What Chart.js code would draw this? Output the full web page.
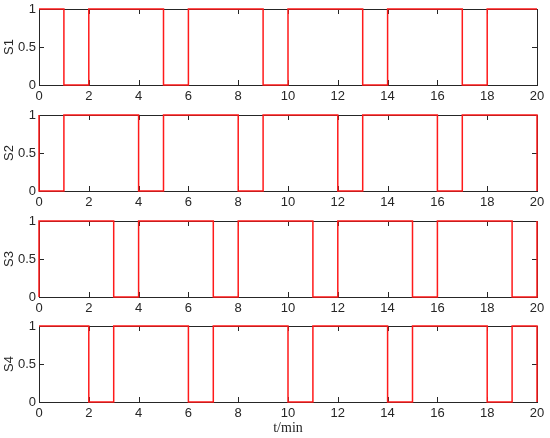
<!DOCTYPE html>
<html>
<head>
<meta charset="utf-8">
<script src="https://cdn.jsdelivr.net/npm/chart.js@4.4.1/dist/chart.umd.min.js"></script>
<style>
	body { margin: 0; background: #fff; }
	#wrap { position: relative; width: 550px; height: 438px; overflow: hidden; }
	#wrap div { position: absolute; left: 0; width: 550px; }
	#wrap canvas { display: block; }
</style>
</head>
<body>
<div id="wrap"></div>
<script>
// x axis: time in minutes, y axis: switch state
const xTicks = [0, 2, 4, 6, 8, 10, 12, 14, 16, 18, 20];
const yTicks = [0, 0.5, 1];
const seriesNames = ["S1", "S2", "S3", "S4"];

// state during each minute 0-1, 1-2, ... 19-20
const s1 = [1, 0, 1, 1, 1, 0, 1, 1, 1, 0, 1, 1, 1, 0, 1, 1, 1, 0, 1, 1];
const s2 = [0, 1, 1, 1, 0, 1, 1, 1, 0, 1, 1, 1, 0, 1, 1, 1, 0, 1, 1, 1];
const s3 = [1, 1, 1, 0, 1, 1, 1, 0, 1, 1, 1, 0, 1, 1, 1, 0, 1, 1, 1, 0];
const s4 = [1, 1, 0, 1, 1, 1, 0, 1, 1, 1, 0, 1, 1, 1, 0, 1, 1, 1, 0, 1];
// level the trace comes from at t=0 and goes to at t=20
const startLevels = [1, 1, 0, 1];
const endLevels = [1, 0, 1, 0];

const allSeries = [s1, s2, s3, s4];
const axisColor = "#262626";

// box round the plot area plus inward ticks, like matlab
const boxPlugin = {
	id: "box",
	beforeDatasetsDraw(chart) {
		const { ctx, chartArea: a, scales } = chart;
		ctx.save();
		ctx.strokeStyle = axisColor;
		ctx.lineWidth = 1;
		ctx.strokeRect(a.left + 0.5, a.top + 0.5, a.right - a.left, a.bottom - a.top);
		ctx.beginPath();
		xTicks.forEach((t) => {
			const px = Math.round(scales.x.getPixelForValue(t)) + 0.5;
			ctx.moveTo(px, a.bottom);
			ctx.lineTo(px, a.bottom - 5);
			ctx.moveTo(px, a.top);
			ctx.lineTo(px, a.top + 5);
		});
		yTicks.forEach((v) => {
			const py = Math.round(scales.y.getPixelForValue(v)) + 0.5;
			ctx.moveTo(a.left, py);
			ctx.lineTo(a.left + 5, py);
			ctx.moveTo(a.right, py);
			ctx.lineTo(a.right - 5, py);
		});
		ctx.stroke();
		ctx.restore();
	},
};

// top of each canvas; the plot area starts 9px lower and is 76px tall
const tops = [0, 106, 212, 317];
const canvasHeight = 130;

allSeries.forEach((levels, i) => {
	const last = i === allSeries.length - 1;
	const axisHeight = last ? 36 : 20;

	const div = document.createElement("div");
	div.style.top = tops[i] + "px";
	div.style.height = canvasHeight + "px";
	const canvas = document.createElement("canvas");
	canvas.width = 550;
	canvas.height = canvasHeight;
	div.appendChild(canvas);
	document.getElementById("wrap").appendChild(div);

	const points = [{ x: 0, y: startLevels[i] }];
	levels.forEach((v, t) => points.push({ x: t, y: v }));
	points.push({ x: 20, y: levels[levels.length - 1] });
	points.push({ x: 20, y: endLevels[i] });

	new Chart(canvas.getContext("2d"), {
		type: "line",
		data: {
			datasets: [
				{
					data: points,
					stepped: true,
					borderColor: "#ff1a1a",
					borderWidth: 1.5,
					pointRadius: 0,
					fill: false,
					clip: false,
				},
			],
		},
		options: {
			responsive: false,
			animation: false,
			devicePixelRatio: 1,
			layout: {
				padding: { top: 9, right: 13, left: 0, bottom: canvasHeight - 9 - 76 - axisHeight },
			},
			plugins: { legend: { display: false }, tooltip: { enabled: false } },
			scales: {
				x: {
					type: "linear",
					min: 0,
					max: 20,
					grid: { display: false, drawTicks: false, tickLength: 0 },
					border: { display: false },
					afterBuildTicks: (scale) => {
						scale.ticks = xTicks.map((v) => ({ value: v }));
					},
					afterFit: (scale) => {
						scale.height = axisHeight;
						scale.paddingLeft = 0;
						scale.paddingRight = 0;
					},
					ticks: {
						maxRotation: 0,
						padding: 4,
						color: axisColor,
						font: { family: "'Liberation Sans', Arial", size: 13 },
					},
					title: {
						display: last,
						text: "t/min",
						color: axisColor,
						padding: { top: 0, bottom: 1 },
						font: { family: "'Liberation Serif', 'Times New Roman'", size: 14 },
					},
				},
				y: {
					min: 0,
					max: 1,
					grid: { display: false, drawTicks: false, tickLength: 0 },
					border: { display: false },
					afterBuildTicks: (scale) => {
						scale.ticks = yTicks.map((v) => ({ value: v }));
					},
					afterFit: (scale) => {
						scale.width = 39;
						scale.paddingTop = 0;
						scale.paddingBottom = 0;
					},
					ticks: {
						padding: 3,
						color: axisColor,
						callback: (v) => String(v),
						font: { family: "'Liberation Sans', Arial", size: 13 },
					},
					title: {
						display: true,
						text: seriesNames[i],
						color: axisColor,
						padding: { top: 2, bottom: 0 },
						font: { family: "'Liberation Sans', Arial", size: 13 },
					},
				},
			},
		},
		plugins: [boxPlugin],
	});
});
</script>
</body>
</html>
